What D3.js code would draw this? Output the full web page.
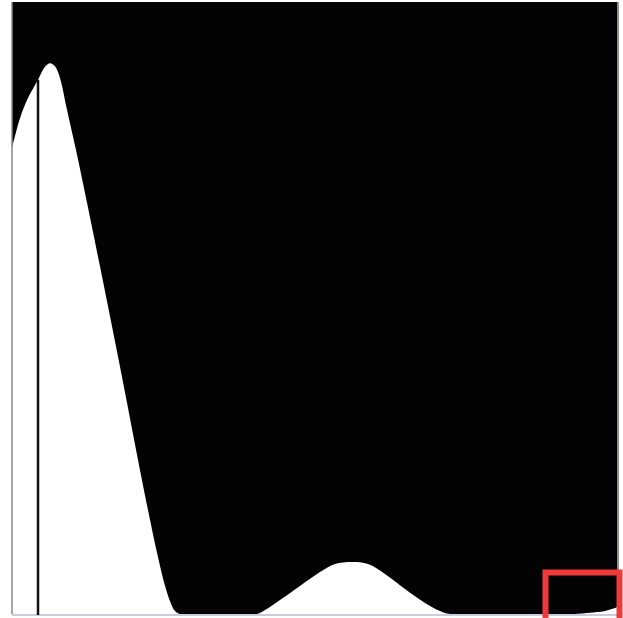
<!DOCTYPE html>
<html>
<head>
<meta charset="utf-8">
<script src="https://cdn.jsdelivr.net/npm/d3@7"></script>
<style>
  html, body { margin: 0; padding: 0; background: #ffffff; }
  svg { display: block; }
</style>
</head>
<body>
<svg id="chart" width="623" height="618"></svg>
<script>
// Position along the pattern (0-100) and relative intensity (0-100)
const positions = [0, 1.32, 2.64, 4.30, 5.45, 6.28, 7.11, 7.93, 9.09, 10.58, 12.23, 14.05, 15.87, 17.69, 19.50, 21.16, 22.81, 23.97, 25.29, 26.12, 26.94, 27.77, 34.4, 40.50, 41.82, 44.30, 47.60, 50.91, 53.39, 56.20, 58.84, 61.65, 64.96, 68.26, 70.74, 72.40, 82.3, 93.06, 95.54, 98.02, 100];
const intensity = [76.1, 81.0, 84.3, 87.3, 89.4, 90.0, 89.5, 87.6, 82.4, 75.8, 68.0, 59.2, 50.3, 41.2, 32.0, 23.5, 15.4, 10.0, 4.6, 2.1, 0.49, 0, 0, 0, 0.65, 2.29, 4.58, 6.86, 8.17, 8.50, 8.17, 6.54, 4.08, 1.80, 0.49, 0, 0, 0, 0.2, 0.5, 1.1];
const markerPosition = [4.30];
const markerIntensity = [87.3];

const data = positions.map((p, i) => ({ x: p, y: intensity[i] }));

const svg = d3.select("#chart");
const x = d3.scaleLinear().domain([0, 100]).range([12, 617]);
const y = d3.scaleLinear().domain([0, 100]).range([614, 2]);

// dark field
svg.append("rect")
  .attr("x", x(0)).attr("y", y(100))
  .attr("width", x(100) - x(0)).attr("height", y(0) - y(100))
  .attr("fill", "#030303");

// bright intensity profile
const area = d3.area()
  .x(d => x(d.x))
  .y0(y(0))
  .y1(d => y(d.y))
  .curve(d3.curveCatmullRom.alpha(0.5));
svg.append("path").datum(data)
  .attr("d", area)
  .attr("fill", "#ffffff");

// left and right frame edges
svg.append("line")
  .attr("x1", x(0)).attr("x2", x(0))
  .attr("y1", y(100)).attr("y2", y(0))
  .attr("stroke", "#8a8a8a").attr("stroke-width", 1.5);
svg.append("line")
  .attr("x1", x(100) + 1).attr("x2", x(100) + 1)
  .attr("y1", y(100)).attr("y2", y(0))
  .attr("stroke", "#8f8f96").attr("stroke-width", 2);

// baseline
svg.append("line")
  .attr("x1", x(0)).attr("x2", x(100))
  .attr("y1", y(0) + 1).attr("y2", y(0) + 1)
  .attr("stroke", "#c3cee0").attr("stroke-width", 2);

// vertical marker
svg.selectAll("line.marker").data(markerPosition).enter().append("line")
  .attr("class", "marker")
  .attr("x1", d => x(d)).attr("x2", d => x(d))
  .attr("y1", y(0) + 1).attr("y2", (d, i) => y(markerIntensity[i]))
  .attr("stroke", "#111111").attr("stroke-width", 2.5);

// red highlight box
svg.append("rect")
  .attr("x", 545.5).attr("y", 572.5)
  .attr("width", 74).attr("height", 50)
  .attr("fill", "none")
  .attr("stroke", "#f03a3a").attr("stroke-width", 6);
</script>
</body>
</html>
